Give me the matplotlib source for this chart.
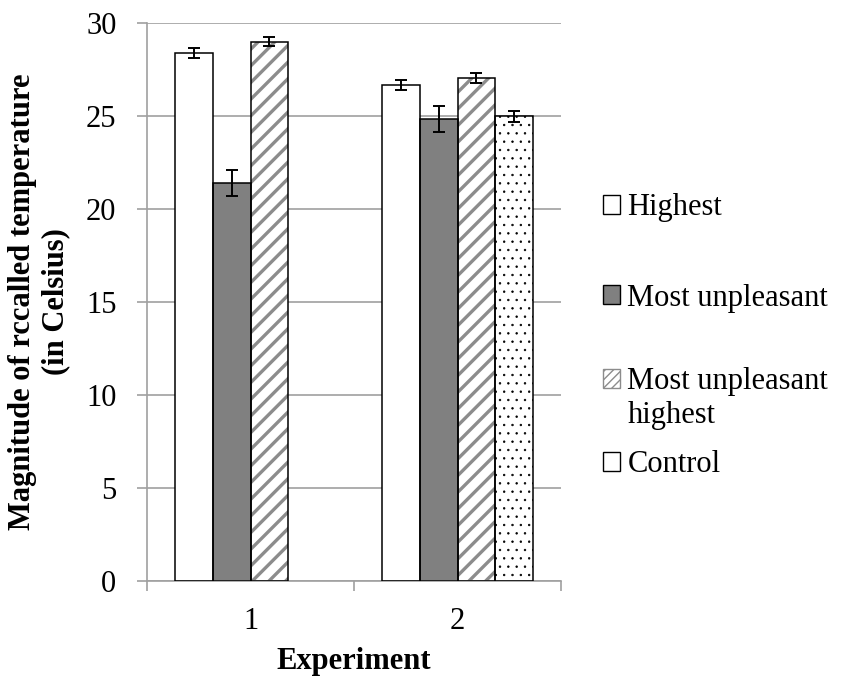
import numpy as np
import matplotlib.pyplot as plt
from matplotlib.patches import Patch

plt.rcParams['font.family'] = ['Liberation Serif', 'DejaVu Serif']

# data
experiments = ["1", "2"]
highest = [28.4, 26.7]
highest_err = [0.25, 0.27]
most_unpleasant = [21.4, 24.85]
most_unpleasant_err = [0.7, 0.72]
mu_highest = [29.02, 27.06]
mu_highest_err = [0.24, 0.29]
control = [np.nan, 25.0]
control_err = [np.nan, 0.3]

labels = ["Highest", "Most unpleasant", "Most unpleasant highest", "Control"]

FS = 22
GRID = "#a0a0a0"

fig = plt.figure(figsize=(8.43, 6.81), dpi=100)
ax = fig.add_axes([147 / 843, 1 - 580.5 / 681, 414 / 843, (580.5 - 23.3) / 681])

x = np.arange(1, len(experiments) + 1)
w = 0.182
series = [
    (highest, highest_err, dict(color="white", hatch=None, hatch_color=None, hlw=1)),
    (most_unpleasant, most_unpleasant_err, dict(color="#808080", hatch=None, hatch_color=None, hlw=1)),
    (mu_highest, mu_highest_err, dict(color="white", hatch="//", hatch_color="#8c8c8c", hlw=2.4)),
    (control, control_err, dict(color="white", hatch="..", hatch_color="black", hlw=0.5)),
]

for i, (vals, errs, st) in enumerate(series):
    pos = x + (i - 1.5) * w
    if st["hatch"]:
        with plt.rc_context({"hatch.linewidth": st["hlw"]}):
            bars = ax.bar(pos, vals, w, color=st["color"], edgecolor=st["hatch_color"],
                          hatch=st["hatch"], linewidth=0, zorder=2)
        for b in bars:
            if hasattr(b, "set_hatch_linewidth"):
                b.set_hatch_linewidth(st["hlw"])
    else:
        ax.bar(pos, vals, w, color=st["color"], linewidth=0, zorder=2)
    # black outline on top
    ax.bar(pos, vals, w, fill=False, edgecolor="black", linewidth=1.1, zorder=3)
    ax.errorbar(pos, vals, yerr=errs, fmt="none", ecolor="black",
                elinewidth=1.4, capsize=4.5, capthick=1.4, zorder=4)

ax.set_xlim(0.5, 2.5)
ax.set_ylim(0, 30)
ax.set_yticks(np.arange(0, 31, 5))
ax.yaxis.grid(True, color=GRID, linewidth=1.2, zorder=0)
ax.set_axisbelow(True)
ax.set_xticks(x)
ax.set_xticklabels(experiments)
ax.set_xticks([0.5, 1.5, 2.5], minor=True)
ax.tick_params(axis="x", which="major", length=0, pad=19, labelsize=FS)
ax.tick_params(axis="x", which="minor", length=7, width=1.2, color=GRID, direction="out")
ax.tick_params(axis="y", length=7, width=1.2, color=GRID, pad=15, labelsize=FS)
for s in ["top", "right"]:
    ax.spines[s].set_visible(False)
for s in ["left", "bottom"]:
    ax.spines[s].set_color(GRID)
    ax.spines[s].set_linewidth(1.2)

ax.set_xlabel("Experiment", fontsize=FS, fontweight="bold", labelpad=8)
ax.set_ylabel("Magnitude of rccalled temperature\n(in Celsius)", fontsize=FS,
              fontweight="bold", labelpad=11, linespacing=1.2)

# legend entries placed one by one, like the original layout
handles = [
    Patch(facecolor="white", edgecolor="black", linewidth=1.0),
    Patch(facecolor="#808080", edgecolor="black", linewidth=1.0),
    Patch(facecolor="white", edgecolor="#8c8c8c", hatch="////", linewidth=1.0),
    Patch(facecolor="white", edgecolor="black", linewidth=1.0),
]
leg_text = ["Highest", "Most unpleasant", "Most unpleasant", "Control"]
leg_y = [208, 298, 382, 465]
for h, t, yy in zip(handles, leg_text, leg_y):
    fig.legend([h], [t], loc="center left", bbox_to_anchor=(603 / 843, 1 - yy / 681),
               frameon=False, fontsize=FS, handlelength=0.55, handleheight=0.55,
               handletextpad=0.25, borderpad=0, borderaxespad=0)
fig.text(628 / 843, 1 - 415 / 681, "highest", fontsize=FS, va="center", ha="left")

fig.savefig("out.png", dpi=100)
